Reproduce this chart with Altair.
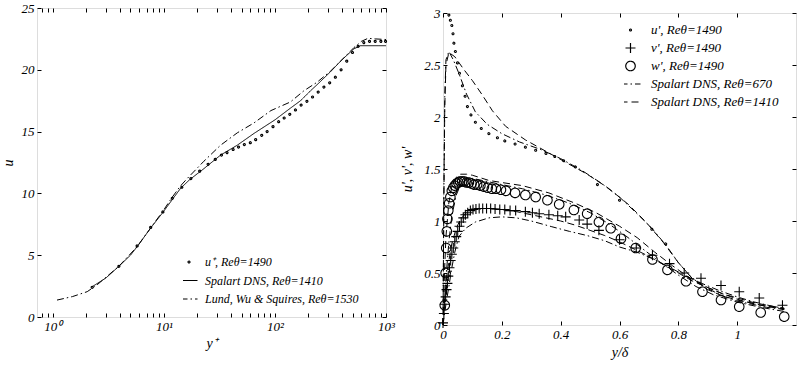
import altair as alt
import pandas as pd

SERIF = "Liberation Serif"

# ---------------- left panel data (mean velocity) ----------------
exp_yplus = [2.26, 3.93, 5.74, 7.6, 9.8, 11.9, 14.5, 17.5, 21, 25, 29, 33, 37, 42, 47, 53, 60, 67, 76, 85,
             96, 108, 121, 136, 153, 172, 194, 218, 245, 276, 311, 350, 394, 443, 499, 561, 631, 710, 799, 899, 990]
exp_u = [2.4, 4.1, 5.75, 7.25, 8.5, 9.6, 10.5, 11.2, 11.8, 12.35, 12.75, 13.1, 13.3, 13.55, 13.75, 13.95, 14.1, 14.35, 14.7, 15.0,
         15.4, 15.8, 16.1, 16.4, 16.75, 17.15, 17.45, 17.8, 18.2, 18.6, 18.95, 19.4, 20.0, 20.7, 21.4, 21.9, 22.2, 22.3, 22.3, 22.3, 22.3]
spal_yplus = [2.26, 3.0, 3.93, 5.0, 5.75, 7.6, 9.86, 11.9, 14.1, 17.0, 22.9, 32.4, 45.8, 64.7, 100, 138, 170, 209, 250, 317,
              400, 515, 590, 700, 850, 1000]
spal_u = [2.45, 3.15, 4.1, 5.0, 5.7, 7.2, 8.5, 9.5, 10.4, 11.1, 12.0, 13.1, 13.9, 14.85, 15.95, 16.9, 17.5, 18.3, 18.95, 19.85,
          20.8, 21.7, 21.95, 21.95, 21.95, 21.95]
lund_yplus = [1.09, 1.5, 2.04, 2.5, 3.93, 5.75, 7.6, 9.86, 11.9, 14.1, 16.2, 22.9, 32.4, 45.8, 64.7, 92, 138, 182, 240, 317,
              400, 515, 600, 690, 800, 1000]
lund_u = [1.37, 1.65, 2.05, 2.6, 4.1, 5.7, 7.2, 8.6, 9.7, 10.6, 11.2, 12.6, 13.9, 14.9, 15.7, 16.7, 17.4, 18.3, 19.0, 19.9,
          20.8, 21.8, 22.3, 22.55, 22.5, 22.45]
left_names = ["u⁺, Reθ=1490", "Spalart DNS, Reθ=1410", "Lund, Wu & Squires, Reθ=1530"]
left_xticks = [0.8, 0.9, 1, 2, 3, 4, 5, 6, 7, 8, 9, 10, 20, 30, 40, 50, 60, 70, 80, 90,
               100, 200, 300, 400, 500, 600, 700, 800, 900, 1000]
left_yticks = [0, 5, 10, 15, 20, 25]

# ---------------- right panel data (rms fluctuations) ----------------
up_x = [0.02, 0.025, 0.03, 0.034, 0.037, 0.042, 0.049, 0.056, 0.066, 0.075, 0.083, 0.095, 0.11, 0.13, 0.156,
        0.185, 0.21, 0.245, 0.28, 0.315, 0.35, 0.38, 0.41, 0.45, 0.525, 0.6, 0.71, 0.757]
up_y = [2.98, 2.93, 2.88, 2.8, 2.71, 2.63, 2.52, 2.42, 2.3, 2.2, 2.1, 2.02, 1.95, 1.89, 1.84,
        1.8, 1.77, 1.74, 1.71, 1.68, 1.65, 1.62, 1.58, 1.52, 1.35, 1.2, 0.92, 0.78]
vp_x = [0.0, 0.003, 0.006, 0.009, 0.012, 0.015, 0.018, 0.022, 0.026, 0.03,
        0.035, 0.04, 0.045, 0.05, 0.056, 0.062, 0.069, 0.076, 0.084, 0.093,
        0.102, 0.112, 0.123, 0.135, 0.148, 0.162, 0.177, 0.193, 0.21, 0.228,
        0.247, 0.28, 0.304, 0.327, 0.36, 0.39, 0.417, 0.463, 0.49, 0.53,
        0.6, 0.657, 0.712, 0.77, 0.82, 0.877, 0.945, 1.007, 1.075, 1.154]
vp_y = [0.02, 0.11, 0.2, 0.27, 0.34, 0.4, 0.47, 0.55, 0.62, 0.68,
        0.74, 0.8, 0.85, 0.9, 0.95, 0.99, 1.03, 1.06, 1.08, 1.1,
        1.11, 1.115, 1.12, 1.12, 1.12, 1.12, 1.115, 1.11, 1.11, 1.1,
        1.1, 1.09, 1.08, 1.07, 1.06, 1.05, 1.04, 1.01, 0.97, 0.91,
        0.82, 0.74, 0.67, 0.59, 0.5, 0.45, 0.38, 0.32, 0.26, 0.19]
wp_x = [0.006, 0.009, 0.011, 0.013, 0.015, 0.018, 0.021, 0.025, 0.03, 0.035,
        0.04, 0.046, 0.052, 0.058, 0.065, 0.072, 0.08, 0.088, 0.097, 0.106,
        0.116, 0.127, 0.139, 0.152, 0.166, 0.18, 0.197, 0.214, 0.245, 0.28,
        0.315, 0.355, 0.395, 0.445, 0.49, 0.53, 0.57, 0.605, 0.655, 0.712,
        0.763, 0.826, 0.882, 0.945, 1.007, 1.08, 1.16]
wp_y = [0.19, 0.5, 0.74, 0.9, 1.02, 1.1, 1.17, 1.23, 1.29, 1.32,
        1.34, 1.36, 1.37, 1.38, 1.38, 1.38, 1.37, 1.37, 1.36, 1.35,
        1.35, 1.34, 1.33, 1.32, 1.31, 1.31, 1.3, 1.29, 1.27, 1.25,
        1.23, 1.2, 1.16, 1.106, 1.07, 0.99, 0.93, 0.83, 0.74, 0.63,
        0.53, 0.42, 0.32, 0.24, 0.176, 0.12, 0.08]

u1410_x = [0, 0.003, 0.006, 0.01, 0.02, 0.04, 0.07, 0.1, 0.134, 0.168, 0.213, 0.28, 0.35, 0.42, 0.49, 0.56, 0.63, 0.69,
           0.75, 0.8, 0.85, 0.9, 0.95, 1.0, 1.05, 1.1, 1.16]
u1410_y = [0, 1.2, 2.1, 2.5, 2.62, 2.58, 2.46, 2.35, 2.21, 2.06, 1.91, 1.78, 1.67, 1.56, 1.45, 1.32, 1.16, 0.99,
           0.79, 0.6, 0.44, 0.34, 0.28, 0.24, 0.21, 0.18, 0.16]
u670_x = [0, 0.003, 0.006, 0.01, 0.02, 0.035, 0.054, 0.08, 0.11, 0.15, 0.2, 0.26, 0.33, 0.4, 0.47, 0.54, 0.6, 0.66,
          0.71, 0.76, 0.8, 0.84, 0.9, 0.95, 1.0, 1.05, 1.1, 1.16]
u670_y = [0, 1.3, 2.2, 2.55, 2.63, 2.55, 2.42, 2.22, 2.05, 1.93, 1.84, 1.76, 1.69, 1.6, 1.49, 1.36, 1.23, 1.07,
          0.93, 0.76, 0.6, 0.47, 0.35, 0.28, 0.23, 0.2, 0.17, 0.15]
v1410_x = [0, 0.005, 0.01, 0.02, 0.03, 0.045, 0.06, 0.08, 0.1, 0.13, 0.16, 0.2, 0.25, 0.3, 0.35, 0.4, 0.45, 0.5,
           0.55, 0.6, 0.65, 0.7, 0.75, 0.8, 0.85, 0.9, 0.95, 1.0, 1.05, 1.1, 1.16]
v1410_y = [0, 0.22, 0.4, 0.62, 0.78, 0.93, 1.02, 1.08, 1.11, 1.12, 1.12, 1.11, 1.09, 1.06, 1.03, 1.0, 0.96, 0.91,
           0.86, 0.8, 0.73, 0.66, 0.58, 0.5, 0.42, 0.36, 0.3, 0.26, 0.22, 0.19, 0.16]
v670_x = [0, 0.01, 0.02, 0.03, 0.04, 0.054, 0.077, 0.11, 0.156, 0.2, 0.25, 0.3, 0.37, 0.43, 0.49, 0.55, 0.6, 0.66,
          0.71, 0.76, 0.82, 0.88, 0.94, 1.0, 1.06, 1.12, 1.16]
v670_y = [0, 0.2, 0.37, 0.55, 0.7, 0.85, 0.93, 0.99, 1.03, 1.04, 1.03, 1.0, 0.945, 0.9, 0.86, 0.81, 0.75, 0.7,
          0.64, 0.57, 0.48, 0.4, 0.33, 0.27, 0.22, 0.18, 0.16]
w1410_x = [0, 0.005, 0.01, 0.02, 0.03, 0.045, 0.06, 0.08, 0.1, 0.156, 0.2, 0.27, 0.36, 0.45, 0.52, 0.6, 0.66, 0.72,
           0.78, 0.84, 0.9, 0.96, 1.02, 1.08, 1.16]
w1410_y = [0, 0.5, 0.85, 1.18, 1.33, 1.42, 1.45, 1.45, 1.44, 1.39, 1.37, 1.34, 1.27, 1.17, 1.08, 0.95, 0.84, 0.7,
           0.57, 0.45, 0.36, 0.29, 0.23, 0.19, 0.15]
w670_x = [0, 0.01, 0.02, 0.03, 0.045, 0.06, 0.08, 0.1, 0.15, 0.2, 0.27, 0.35, 0.43, 0.5, 0.56, 0.62, 0.68, 0.74,
          0.8, 0.86, 0.92, 1.0, 1.08, 1.16]
w670_y = [0, 0.45, 0.8, 1.05, 1.25, 1.35, 1.4, 1.41, 1.38, 1.35, 1.31, 1.25, 1.17, 1.08, 0.98, 0.86, 0.73, 0.6,
          0.48, 0.37, 0.29, 0.22, 0.17, 0.13]
right_names = ["u', Reθ=1490", "v', Reθ=1490", "w', Reθ=1490", "Spalart DNS, Reθ=670", "Spalart DNS, Reθ=1410"]
right_xticks = [0, 0.2, 0.4, 0.6, 0.8, 1.0]
right_yticks = [0, 0.5, 1, 1.5, 2, 2.5, 3]

# ---------------- tables ----------------
left_pts = pd.DataFrame({"x": exp_yplus, "y": exp_u, "series": left_names[0]})
left_lines = pd.concat([
    pd.DataFrame({"x": spal_yplus, "y": spal_u, "series": left_names[1]}),
    pd.DataFrame({"x": lund_yplus, "y": lund_u, "series": left_names[2]}),
])
right_pts = pd.concat([
    pd.DataFrame({"x": up_x, "y": up_y, "series": right_names[0]}),
    pd.DataFrame({"x": vp_x, "y": vp_y, "series": right_names[1]}),
    pd.DataFrame({"x": wp_x, "y": wp_y, "series": right_names[2]}),
])
right_lines = pd.concat([
    pd.DataFrame({"x": u670_x, "y": u670_y, "series": right_names[3], "comp": "u670"}),
    pd.DataFrame({"x": v670_x, "y": v670_y, "series": right_names[3], "comp": "v670"}),
    pd.DataFrame({"x": w670_x, "y": w670_y, "series": right_names[3], "comp": "w670"}),
    pd.DataFrame({"x": u1410_x, "y": u1410_y, "series": right_names[4], "comp": "u1410"}),
    pd.DataFrame({"x": v1410_x, "y": v1410_y, "series": right_names[4], "comp": "v1410"}),
    pd.DataFrame({"x": w1410_x, "y": w1410_y, "series": right_names[4], "comp": "w1410"}),
])
spacer_df = pd.DataFrame({"a": [0]})

# ---------------- styles ----------------
DOT = "M-0.2,0A0.2,0.2 0 1,0 0.2,0A0.2,0.2 0 1,0 -0.2,0Z"
CIRC = "M-0.95,0A0.95,0.95 0 1,0 0.95,0A0.95,0.95 0 1,0 -0.95,0Z"
PLUS = "M-1,0H1M0,-1V1"
LINE_L = "M-1.7,0H1.7"
LINE_R = "M-2,0H2"
SOLID = [1, 0]
DASHDOT = [7, 3, 1.5, 3]
DASHED = [7, 4]
TICK = 4


def ax(orient, values, title=None, labels=True, label_expr=None, title_pad=4):
    kw = dict(orient=orient, values=values, domain=False, grid=False, ticks=True,
              tickSize=TICK, offset=-TICK, tickColor="black", tickWidth=1,
              labels=labels, labelFont=SERIF, labelFontStyle="italic", labelFontSize=13,
              labelColor="black", labelPadding=3, labelFlush=False, labelOverlap=False,
              titleFont=SERIF, titleFontStyle="italic", titleFontWeight="normal",
              titleFontSize=14, titleColor="black", titlePadding=title_pad)
    kw["title"] = title
    if label_expr is not None:
        kw["labelExpr"] = label_expr
    return alt.Axis(**kw)


def legend(x, y, fs, off, pad):
    return alt.Legend(title=None, orient="none", legendX=x, legendY=y,
                      labelFont=SERIF, labelFontStyle="italic", labelFontSize=fs, labelColor="black",
                      labelOffset=off, labelLimit=0, rowPadding=pad, clipHeight=14, symbolSize=100,
                      symbolStrokeColor="black", symbolStrokeWidth=1.2, symbolFillColor="transparent")


# ---------------- left chart ----------------
xl = alt.Scale(type="log", domain=[0.72, 1000], nice=False)
yl = alt.Scale(domain=[0, 25], nice=False, zero=False)
lexpr = ("datum.value == 1 ? '10⁰' : datum.value == 10 ? '10¹' : "
         "datum.value == 100 ? '10²' : datum.value == 1000 ? '10³' : ''")
shape_l = alt.Scale(domain=left_names, range=[DOT, LINE_L, LINE_L])
dash_l = alt.Scale(domain=left_names, range=[SOLID, SOLID, DASHDOT])
leg_l = legend(146, 247, 12, 10, 4.5)

left_points = alt.Chart(left_pts).mark_point(filled=False, color="black", size=100, strokeWidth=1.2, opacity=1).encode(
    x=alt.X("x:Q", scale=xl, axis=ax("bottom", left_xticks, title="y⁺", label_expr=lexpr, title_pad=3)),
    y=alt.Y("y:Q", scale=yl, axis=ax("left", left_yticks, title="u", title_pad=6)),
    shape=alt.Shape("series:N", scale=shape_l, legend=leg_l),
    strokeDash=alt.StrokeDash("series:N", scale=dash_l, legend=leg_l),
)
left_line = alt.Chart(left_lines).mark_line(color="black", strokeWidth=1).encode(
    x=alt.X("x:Q", scale=xl, axis=ax("top", left_xticks, labels=False)),
    y=alt.Y("y:Q", scale=yl, axis=ax("right", left_yticks, labels=False)),
    strokeDash=alt.StrokeDash("series:N", scale=dash_l, legend=leg_l),
    detail="series:N",
)
left = alt.layer(left_line, left_points).resolve_axis(x="independent", y="independent").properties(
    width=349, height=309)

# ---------------- right chart ----------------
xr = alt.Scale(domain=[0, 1.2], nice=False, zero=False)
yr = alt.Scale(domain=[0, 3], nice=False, zero=False)
shape_r = alt.Scale(domain=right_names, range=[DOT, PLUS, CIRC, LINE_R, LINE_R])
dash_r = alt.Scale(domain=right_names, range=[SOLID, SOLID, SOLID, DASHDOT, DASHED])
leg_r = legend(181, 15, 13, 14, 4)

right_points = alt.Chart(right_pts).mark_point(filled=False, color="black", size=100, strokeWidth=1.1, opacity=1).encode(
    x=alt.X("x:Q", scale=xr, axis=ax("bottom", right_xticks, title="y/δ", label_expr="datum.value + ''", title_pad=4)),
    y=alt.Y("y:Q", scale=yr, axis=ax("left", right_yticks, title="u', v', w'", label_expr="datum.value + ''", title_pad=9)),
    shape=alt.Shape("series:N", scale=shape_r, legend=leg_r),
    strokeDash=alt.StrokeDash("series:N", scale=dash_r, legend=leg_r),
)
right_line = alt.Chart(right_lines).mark_line(color="black", strokeWidth=1).encode(
    x=alt.X("x:Q", scale=xr, axis=ax("top", right_xticks, labels=False)),
    y=alt.Y("y:Q", scale=yr, axis=ax("right", right_yticks, labels=False)),
    strokeDash=alt.StrokeDash("series:N", scale=dash_r, legend=leg_r),
    detail="comp:N",
)
right = alt.layer(right_line, right_points).resolve_axis(x="independent", y="independent").properties(
    width=353, height=312)

# small invisible spacer that lowers the right panel a few pixels
spacer = alt.Chart(spacer_df).mark_point(opacity=0, size=0).encode(
    x=alt.X("a:Q", axis=None), y=alt.Y("a:Q", axis=None)
).properties(width=1, height=1, view=alt.ViewBackground(stroke="transparent"))

right_col = alt.vconcat(spacer, right, spacing=4, bounds="flush")

chart = alt.hconcat(left, right_col, spacing=5).resolve_scale(
    x="independent", y="independent", shape="independent", strokeDash="independent"
).resolve_legend(shape="independent", strokeDash="independent").properties(
    padding={"left": 0, "top": 1, "right": 0, "bottom": 0}
).configure_view(stroke="black", strokeWidth=1.2).configure(background="white")

chart.save("out.html", embed_options={"renderer": "svg", "actions": False})
